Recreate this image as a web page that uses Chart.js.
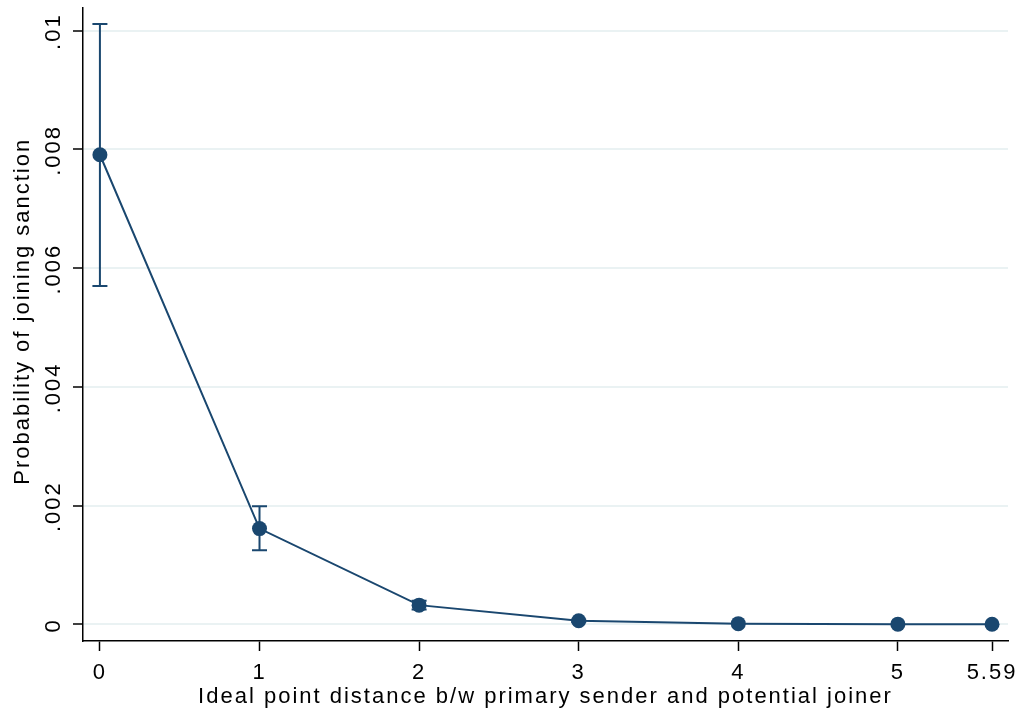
<!DOCTYPE html>
<html>
<head>
<meta charset="utf-8">
<script src="https://cdn.jsdelivr.net/npm/chart.js@4.4.1/dist/chart.umd.min.js"></script>
<style>
  html, body { margin: 0; padding: 0; background: #ffffff; }
  #wrap { width: 1019px; height: 714px; position: relative; }
</style>
</head>
<body>
<div id="wrap"><canvas id="c" width="1019" height="714"></canvas></div>
<script>
// Predicted probability of joining a sanction by ideal point distance
const distances = [0, 1, 2, 3, 4, 5, 5.59];
const probability = [0.00791, 0.001613, 0.000324, 0.00006, 0.000012, 0.000004, 0.000002];
const ciLower = [0.00570, 0.00125, 0.00025, 0.00004, 0.000005, 0.000001, 0.0000005];
const ciUpper = [0.01011, 0.00199, 0.00040, 0.00008, 0.00002, 0.000007, 0.000004];
const xTicks = [0, 1, 2, 3, 4, 5, 5.59];
const yTicks = [0, 0.002, 0.004, 0.006, 0.008, 0.01];
const yTickLabels = ['0', '.002', '.004', '.006', '.008', '.01'];

const NAVY = '#1a476f';
const FONT = '"Liberation Sans", Arial, Helvetica, sans-serif';
const FS = 22;
const SPACING = '2px';

// Wider letter spacing for all text on the canvas
const spacingPlugin = {
  id: 'spacing',
  beforeDraw(chart) { chart.ctx.letterSpacing = SPACING; }
};

// Whiskers with caps around each estimate
const ciPlugin = {
  id: 'ciBars',
  beforeDatasetsDraw(chart) {
    const ctx = chart.ctx, xs = chart.scales.x, ys = chart.scales.y;
    ctx.save();
    ctx.strokeStyle = NAVY;
    ctx.lineWidth = 2;
    distances.forEach((d, i) => {
      const px = xs.getPixelForValue(d);
      const top = ys.getPixelForValue(ciUpper[i]);
      const bot = ys.getPixelForValue(ciLower[i]);
      if (bot - top < 1) return;
      ctx.beginPath();
      ctx.moveTo(px, top); ctx.lineTo(px, bot);
      ctx.moveTo(px - 7.5, top); ctx.lineTo(px + 7.5, top);
      ctx.moveTo(px - 7.5, bot); ctx.lineTo(px + 7.5, bot);
      ctx.stroke();
    });
    ctx.restore();
  }
};

// Vertical y tick labels and y axis title
const yTextPlugin = {
  id: 'yText',
  afterDraw(chart) {
    const ctx = chart.ctx, ys = chart.scales.y, area = chart.chartArea;
    ctx.save();
    ctx.letterSpacing = SPACING;
    ctx.fillStyle = '#000';
    ctx.font = FS + 'px ' + FONT;
    ctx.textAlign = 'center';
    ctx.textBaseline = 'middle';
    yTicks.forEach((v, i) => {
      const py = ys.getPixelForValue(v);
      ctx.save();
      ctx.translate(54, py + 1);
      ctx.rotate(-Math.PI / 2);
      ctx.fillText(yTickLabels[i], 0, 0);
      ctx.restore();
    });
    ctx.translate(23, (area.top + area.bottom) / 2 - 13);
    ctx.rotate(-Math.PI / 2);
    ctx.fillText('Probability of joining sanction', 0, 0);
    ctx.restore();
  }
};

new Chart(document.getElementById('c'), {
  type: 'scatter',
  data: {
    datasets: [{
      data: distances.map((d, i) => ({ x: d, y: probability[i] })),
      showLine: true,
      borderColor: NAVY,
      borderWidth: 2,
      backgroundColor: NAVY,
      pointBackgroundColor: NAVY,
      pointBorderColor: NAVY,
      pointRadius: 7.5,
      pointBorderWidth: 0,
      tension: 0
    }]
  },
  options: {
    responsive: false,
    animation: false,
    events: [],
    layout: { padding: { top: 6, right: 11, left: 0, bottom: 0 } },
    plugins: { legend: { display: false }, tooltip: { enabled: false } },
    scales: {
      x: {
        type: 'linear',
        min: -0.106,
        max: 5.69,
        afterBuildTicks(scale) { scale.ticks = xTicks.map(v => ({ value: v })); },
        afterFit(scale) { scale.height = 73; scale.paddingLeft = 0; scale.paddingRight = 0; },
        grid: { drawOnChartArea: false, drawTicks: true, tickLength: 10, tickColor: '#000', tickWidth: 1.5 },
        border: { display: true, color: '#000', width: 1.5 },
        ticks: {
          color: '#000',
          font: { family: FONT, size: FS },
          padding: 9,
          maxRotation: 0,
          autoSkip: false,
          callback: (v) => String(v)
        },
        title: {
          display: true,
          text: 'Ideal point distance b/w primary sender and potential joiner',
          color: '#000',
          font: { family: FONT, size: FS },
          padding: { top: 0, bottom: 4 }
        }
      },
      y: {
        type: 'linear',
        min: -0.00028,
        max: 0.01039,
        afterBuildTicks(scale) { scale.ticks = yTicks.map(v => ({ value: v })); },
        afterFit(scale) { scale.width = 83; scale.paddingTop = 0; scale.paddingBottom = 0; },
        grid: { drawOnChartArea: true, color: '#eaf2f3', lineWidth: 2, drawTicks: true, tickLength: 10, tickColor: '#000', tickWidth: 1.5 },
        border: { display: true, color: '#000', width: 1.5 },
        ticks: { display: false, autoSkip: false }
      }
    }
  },
  plugins: [spacingPlugin, ciPlugin, yTextPlugin]
});
</script>
</body>
</html>
